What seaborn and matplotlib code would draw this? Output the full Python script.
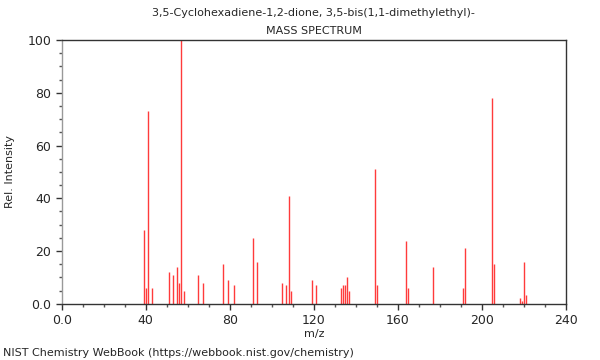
import numpy as np
import pandas as pd
import matplotlib; matplotlib.use('agg')
import matplotlib.pyplot as plt
from matplotlib.ticker import MultipleLocator, FuncFormatter
import seaborn as sns


sns.set_style("ticks")
plt.rcParams['font.family'] = ['DejaVu Sans']

title = '3,5-Cyclohexadiene-1,2-dione, 3,5-bis(1,1-dimethylethyl)-\nMASS SPECTRUM'
source = 'NIST Chemistry WebBook (https://webbook.nist.gov/chemistry)'

# peaks
mz = [39, 40, 41, 43, 51, 53, 55, 56, 57, 58, 65, 67, 77, 79, 82, 91, 93,
      105, 107, 108, 109, 119, 121, 133, 134, 135, 136, 137, 149, 150,
      164, 165, 177, 191, 192, 205, 206, 218, 219, 220, 221]
intensity = [28, 6, 73, 6, 12, 11, 14, 8, 100, 5, 11, 8, 15, 9, 7, 25, 16,
             8, 7, 41, 5, 9, 7, 6, 7, 7, 10, 5, 51, 7,
             24, 6, 14, 6, 21, 78, 15, 2.3, 1.1, 16, 3.2]

df = pd.DataFrame({'mz': mz, 'intensity': intensity})

fig = plt.figure(figsize=(6, 3.6), dpi=100)
ax = fig.add_axes([0.103, 0.156, 0.84, 0.733])

ax.vlines(df['mz'], 0, df['intensity'], color='#ff3b3b', linewidth=1)

ax.set_xlim(0, 240)
ax.set_ylim(0, 100)
ax.xaxis.set_major_locator(MultipleLocator(40))
ax.xaxis.set_minor_locator(MultipleLocator(10))
ax.yaxis.set_major_locator(MultipleLocator(20))
ax.yaxis.set_minor_locator(MultipleLocator(5))
fmt = FuncFormatter(lambda v, p: '0.0' if v == 0 else '%d' % v)
ax.xaxis.set_major_formatter(fmt)
ax.yaxis.set_major_formatter(fmt)
ax.tick_params(which='major', length=4, width=1, color='#333333', labelsize=9)
ax.tick_params(which='minor', length=2.5, width=1, color='#555555')

for side in ['top', 'right', 'bottom']:
    ax.spines[side].set_visible(True)
    ax.spines[side].set_color('#333333')
    ax.spines[side].set_linewidth(1)
ax.spines['left'].set_color('#999999')
ax.spines['left'].set_linewidth(1)

ax.set_xlabel('m/z', fontsize=8, labelpad=1)
ax.set_ylabel('Rel. Intensity', fontsize=8, labelpad=9)
ax.set_title(title, fontsize=8, linespacing=2.0, pad=4)

fig.text(0.005, 0.005, source, fontsize=8, ha='left', va='bottom')

plt.savefig('out.png', dpi=100)
plt.close(fig)
